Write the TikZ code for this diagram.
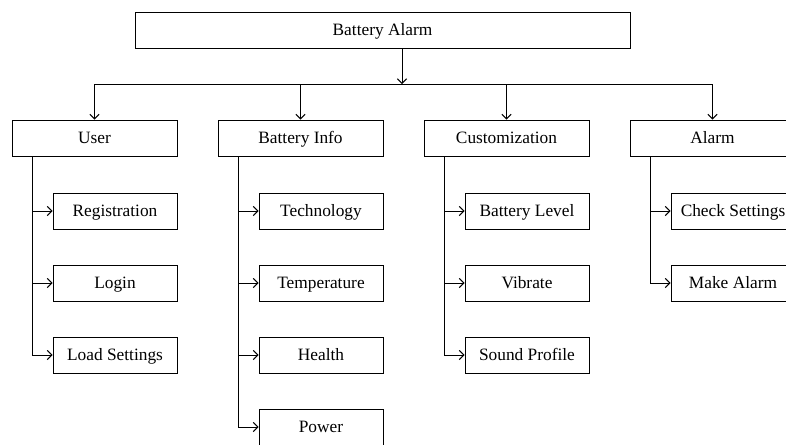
\documentclass[tikz,border=0pt]{standalone}
\usepackage{fontspec}
\setmainfont{Liberation Serif}
\usepackage{tikz}
\usetikzlibrary{arrows.meta}

\begin{document}
\begin{tikzpicture}[x=0.75pt, y=-0.75pt, line width=0.7pt,
    >={Straight Barb[length=3.5pt,width=7pt]},
    font=\fontsize{13}{15}\selectfont,
    mainbox/.style={draw, inner sep=0pt, text height=8.6pt, text depth=0pt, minimum width=371.25pt, minimum height=27pt},
    catbox/.style={draw, inner sep=0pt, text height=8.6pt, text depth=0pt, minimum width=123.75pt, minimum height=27pt},
    itembox/.style={draw, inner sep=0pt, text height=8.6pt, text depth=0pt, minimum width=93pt, minimum height=27pt}]
					\clip (0,0) rectangle (786,444);
					\node[mainbox] (top) at (382.5,30) {Battery Alarm};
					\coordinate (hub) at (402,84);
					\draw[->] (top.south -| hub) -- (hub);
					\foreach \x/\id/\label in {94.5/user/User, 300.5/info/Battery Info, 506.5/cust/Customization, 712.5/alarm/Alarm} {
						\node[catbox] (\id) at (\x,138) {\label};
						\draw[->] (\id.north |- hub) -- (\id.north);
					}
					\draw (user.north |- hub) -- (alarm.north |- hub);
					\foreach \id/\x/\items in {user/94.5/{Registration,Login,Load Settings}, info/300.5/{Technology,Temperature,Health,Power}, cust/506.5/{Battery Level,Vibrate,Sound Profile}, alarm/712.5/{Check Settings,Make Alarm}} {
						\foreach \label [count=\k] in \items {
							\node[itembox] (\id-\k) at (\x+20.5,139+72*\k) {\label};
							\draw[->] ([xshift=15.75pt]\id.south west) |- (\id-\k.west);
						}
					}
				\end{tikzpicture}
\end{document}
